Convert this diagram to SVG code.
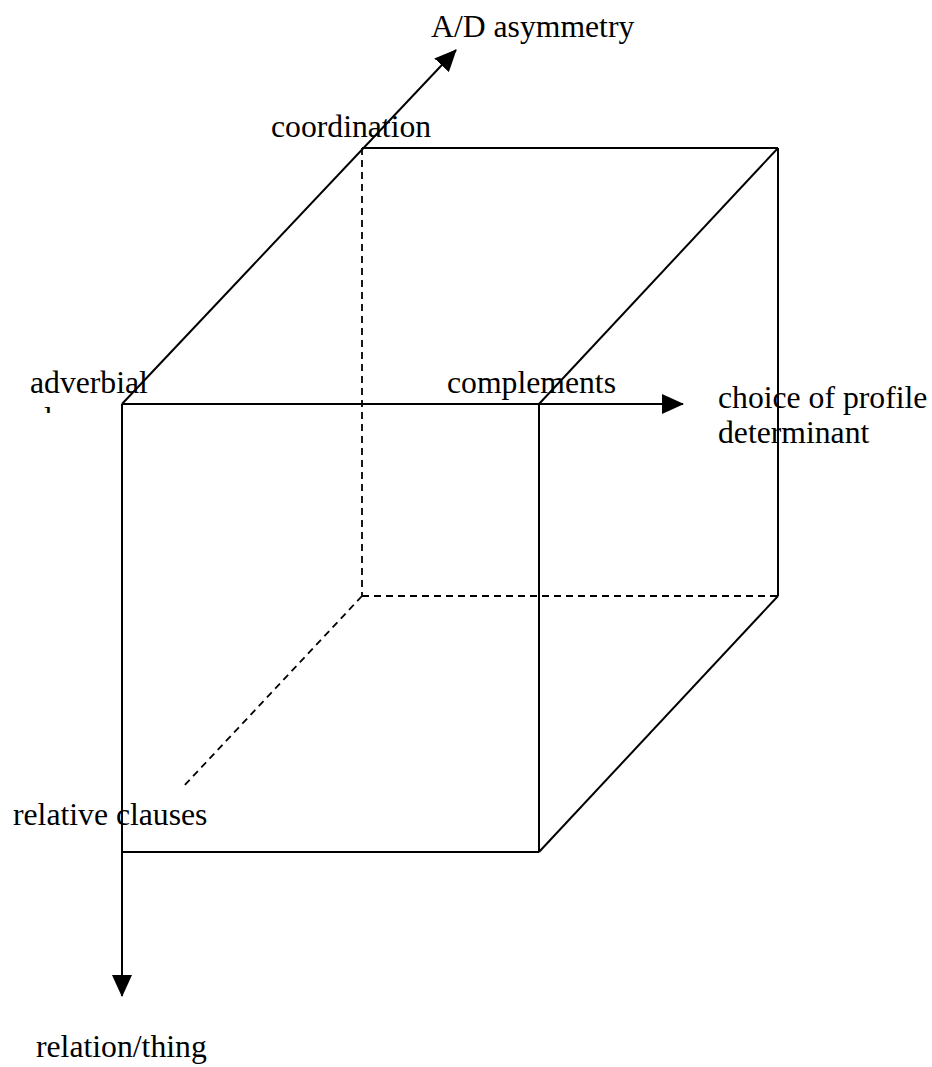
<svg xmlns="http://www.w3.org/2000/svg" width="932" height="1067" viewBox="0 0 932 1067">
<style>
.e{stroke:#000;stroke-width:2;fill:none}
.d{stroke:#000;stroke-width:1.8;fill:none;stroke-dasharray:7,5}
text{font-family:"Liberation Serif","Times New Roman",serif;font-size:31.7px;fill:#000}
</style>
<defs>
<marker id="ah" markerUnits="userSpaceOnUse" markerWidth="22" markerHeight="20" refX="21" refY="10" orient="auto">
<path d="M0,0 L22,10 L0,20 z" fill="#000"/>
</marker>
<clipPath id="clipfrag"><rect x="0" y="400" width="200" height="13"/></clipPath>
</defs>
<rect width="932" height="1067" fill="#fff"/>
<g id="connectors">
<line class="d" x1="362" y1="148" x2="362" y2="596"/>
<line class="d" x1="362" y1="596" x2="778" y2="596"/>
<line class="d" x1="362" y1="596" x2="183" y2="787"/>
<line class="e" x1="362" y1="148" x2="778" y2="148"/>
<line class="e" x1="778" y1="148" x2="778" y2="596"/>
<line class="e" x1="539" y1="404" x2="778" y2="148"/>
<line class="e" x1="539" y1="852" x2="778" y2="596"/>
<line class="e" x1="539" y1="404" x2="539" y2="852"/>
<line class="e" x1="122" y1="852" x2="539" y2="852"/>
<line class="e" x1="122" y1="404" x2="456" y2="50" marker-end="url(#ah)"/>
<line class="e" x1="122" y1="404" x2="683" y2="404" marker-end="url(#ah)"/>
<line class="e" x1="122" y1="404" x2="122" y2="996" marker-end="url(#ah)"/>
</g>
<g id="ad-asymmetry"><text x="431" y="37">A/D asymmetry</text></g>
<g id="coordination"><text x="271" y="137">coordination</text></g>
<g id="adverbial"><text x="30" y="393">adverbial</text><text x="30" y="429" clip-path="url(#clipfrag)">clauses</text></g>
<g id="complements"><text x="447" y="393">complements</text></g>
<g id="choice-of-profile"><text x="718" y="408">choice of profile</text><text x="718" y="443">determinant</text></g>
<g id="relative-clauses"><text x="13" y="825">relative clauses</text></g>
<g id="relation-thing"><text x="36" y="1057">relation/thing</text></g>
</svg>
